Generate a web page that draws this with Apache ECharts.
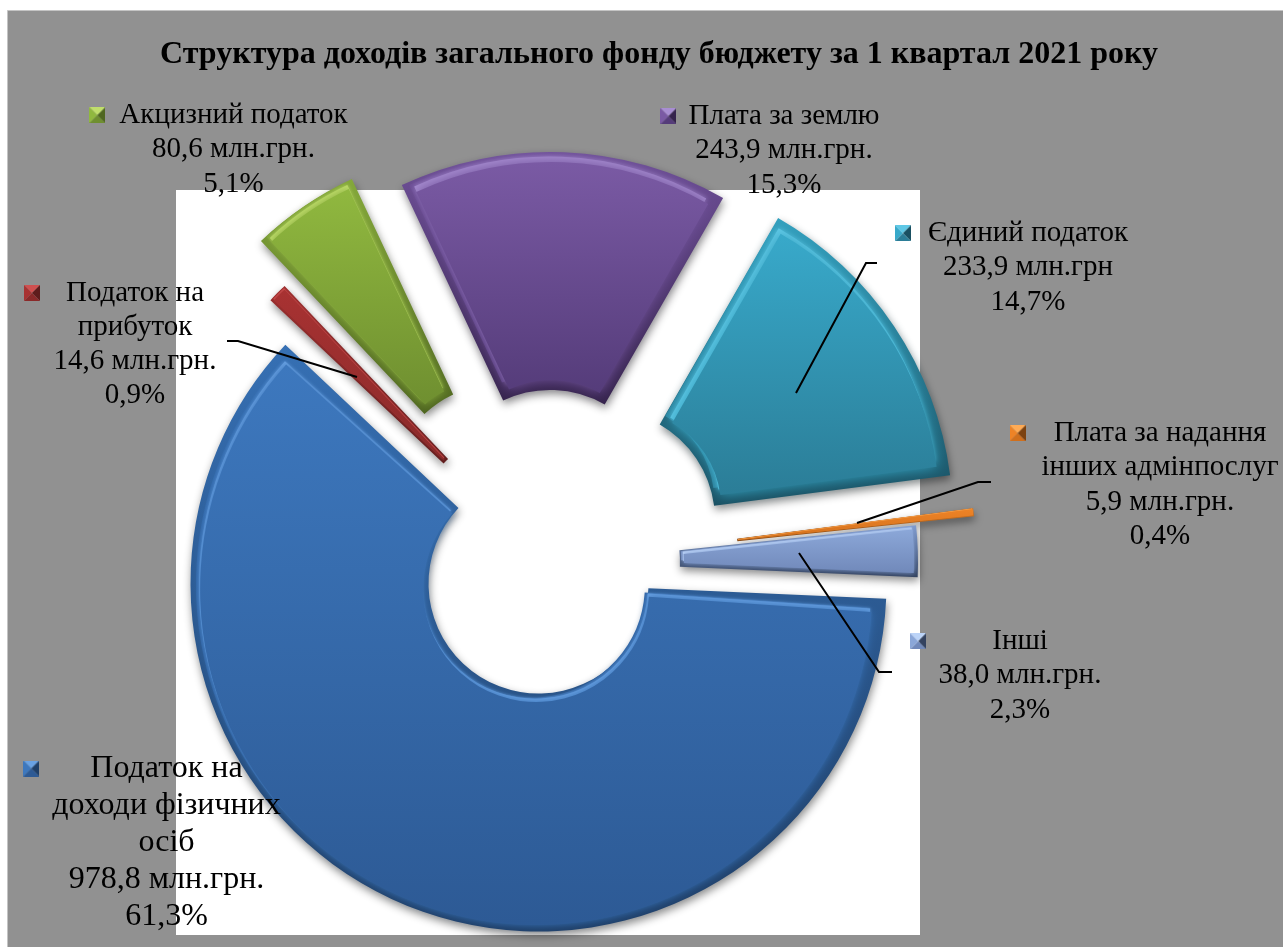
<!DOCTYPE html>
<html>
<head>
<meta charset="utf-8">
<script src="https://cdn.jsdelivr.net/npm/echarts@6/dist/echarts.min.js"></script>
<style>html,body{margin:0;padding:0;background:#fff}#c{width:1283px;height:947px}</style>
</head>
<body>
<div id="c"></div>
<script>
const titleText = 'Структура доходів загального фонду бюджету за 1 квартал 2021 року';
const categories = ['Податок на\nдоходи фізичних\nосіб','Податок на\nприбуток','Акцизний податок','Плата за землю','Єдиний податок','Плата за надання\nінших адмінпослуг','Інші'];
const values = [978.8,14.6,80.6,243.9,233.9,5.9,38.0];
const amounts = ['978,8 млн.грн.','14,6 млн.грн.','80,6 млн.грн.','243,9 млн.грн.','233,9 млн.грн','5,9 млн.грн.','38,0 млн.грн.'];
const shares = ['61,3%','0,9%','5,1%','15,3%','14,7%','0,4%','2,3%'];

const faceTop = ['#3d78be','#a83232','#90b83f','#7a5aa4','#38a9ca','#ee8326','#8ba7d8'];
const faceBottom = ['#2d5a95','#8a2a2a','#6f8f30','#553c7a','#2b7d97','#d06f1c','#7189ba'];
const lightColors = ['#69a2e4','#cf5050','#c0de6c','#a88ed2','#5fc8e6','#ffab55','#bcd4f8'];
const midColors = ['#3670b4','#9c2e2e','#84a83a','#70519a','#33a0be','#dd7a22','#809cd0'];
const darkColors = ['#1f3f68','#5e1c1c','#4f6620','#35234c','#1a5062','#7c4210','#33425f'];

const pieCenters = [[538.5,583.5],[523.6,539],[500,494],[550,500],[605,520],[628,553],[570,562]];
const outerR = 348, innerR = 110, firstAngle = -2.5;
const bevels = [6,2.5,7,10,10,1,4];
const labelBoxes = [
  {x:166.5,y:750,lh:37,gap:51,fs:32},
  {x:135,y:276,lh:34,gap:26,fs:29},
  {x:233.5,y:98,lh:34.5,gap:14,fs:29},
  {x:784,y:99,lh:34.5,gap:12,fs:29},
  {x:1028,y:216,lh:34.5,gap:17,fs:29},
  {x:1160,y:416,lh:34.5,gap:28,fs:29},
  {x:1020,y:624,lh:34.5,gap:66,fs:29}
];
const leaderLines = [null,[[357,377],[238,341],[227,341]],null,null,[[796,393],[866,263],[877,263]],[[857,523],[978,482],[991,482]],[[799,553],[879,672],[892,672]]];

const FONT = '"Liberation Serif","Times New Roman",serif';
const total = values.reduce((a,b)=>a+b,0);

function keyIcon(i){
  const c = document.createElement('canvas'); c.width = c.height = 16;
  const g = c.getContext('2d'), s = 16, m = 8;
  const tri = (pts,col)=>{g.fillStyle=col;g.beginPath();g.moveTo(pts[0],pts[1]);g.lineTo(pts[2],pts[3]);g.lineTo(pts[4],pts[5]);g.closePath();g.fill();};
  tri([0,0,s,0,m,m],lightColors[i]);
  tri([0,0,0,s,m,m],faceTop[i]);
  tri([s,0,s,s,m,m],darkColors[i]);
  tri([0,s,s,s,m,m],faceBottom[i]);
  return c;
}
function grad(a,b){return {type:'linear',x:0,y:0,x2:0,y2:1,colorStops:[{offset:0,color:a},{offset:1,color:b}]};}

const series = [];
function addPie(i,center,rIn,rOut,startA,val,style,z,extra){
  series.push(Object.assign({
    type:'pie',name:categories[i].replace(/\n/g,' '),silent:true,animation:false,z:z,
    center:center,radius:[rIn,rOut],startAngle:startA,clockwise:true,avoidLabelOverlap:false,
    minAngle:0,label:{show:false},labelLine:{show:false},emphasis:{disabled:true},
    data:[{value:val,name:categories[i],itemStyle:style},
          {value:total-val,name:'',itemStyle:{color:'rgba(0,0,0,0)',borderWidth:0,shadowBlur:0},label:{show:false},labelLine:{show:false}}]
  },extra||{}));
}

let ang = firstAngle;
values.forEach((v,i)=>{
  const span = v/total*360, mid = (ang-span/2)*Math.PI/180;
  const [cx,cy] = pieCenters[i];
  const d = bevels[i];
  const big = span>=180;
  const s = big ? 6 : d/Math.sin(span/2*Math.PI/180);
  const a = big ? 1.4 : 0;
  const ix = cx+s*Math.cos(mid), iy = cy-s*Math.sin(mid);
  const rO = outerR-d-s, rI = big ? innerR+3 : Math.max(0,innerR+d-s);
  const startI = ang-a, valI = v*(span-2*a)/span;

  addPie(i,[cx,cy],innerR,outerR,ang,v,{color:grad(midColors[i],darkColors[i]),shadowBlur:9,shadowOffsetY:4,shadowOffsetX:1,shadowColor:'rgba(0,0,0,0.45)'},2);
  addPie(i,[ix-d*0.7,iy-d*0.7],rI,rO,startI,valI,{color:grad(midColors[i],faceBottom[i])},3);
  addPie(i,[ix-d*0.2,iy-d*0.55],rI,rO,startI,valI,{color:lightColors[i],shadowBlur:d*0.5,shadowColor:lightColors[i]},4);
  addPie(i,[ix,iy],rI,rO,startI,valI,{color:grad(faceTop[i],faceBottom[i]),shadowBlur:d*1.4,shadowColor:midColors[i]},5);

  const box = labelBoxes[i], nameLines = categories[i].split('\n');
  const rich = {k:{width:16,height:16,backgroundColor:{image:keyIcon(i)}},g:{width:box.gap},e:{width:16+box.gap}};
  const text = '{k|}{g|}'+nameLines[0]+'{e|}'+(nameLines.length>1?'\n'+nameLines.slice(1).join('\n'):'')+'\n'+amounts[i]+'\n'+shares[i];
  const line = leaderLines[i];
  addPie(i,[cx,cy],innerR,outerR,ang,v,{color:'rgba(0,0,0,0)'},8,{
    label:{show:true,position:'outside',formatter:()=>text,rich:rich,color:'#000',fontFamily:FONT,fontSize:box.fs,lineHeight:box.lh,align:'center',overflow:'none'},
    labelLine:{show:!!line,lineStyle:{color:'#000',width:2}},
    labelLayout:()=>Object.assign({x:box.x,y:box.y,align:'center',verticalAlign:'top',hideOverlap:false},line?{labelLinePoints:line}:{})
  });
  ang -= span;
});

const chart = echarts.init(document.getElementById('c'));
chart.setOption({
  backgroundColor:'#fff',animation:false,
  title:{text:titleText,left:654,top:34,textAlign:'center',textStyle:{fontFamily:FONT,fontWeight:'bold',fontSize:32,color:'#000'}},
  tooltip:{show:false},
  graphic:[
    {type:'rect',z:-2,silent:true,shape:{x:7.5,y:10.5,width:1290,height:950},style:{fill:'#919191',stroke:'#c4c4c4',lineWidth:1}},
    {type:'rect',z:-1,silent:true,shape:{x:176,y:190,width:744,height:745},style:{fill:'#fff'}}
  ],
  series:series
});
</script>
</body>
</html>
